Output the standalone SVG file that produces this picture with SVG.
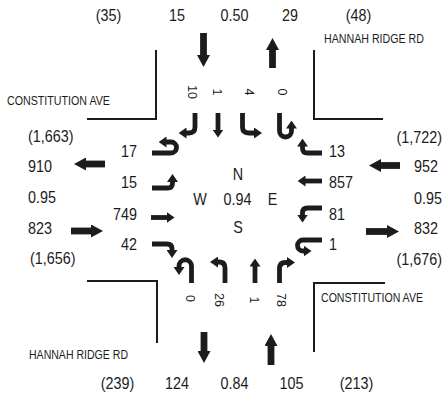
<svg xmlns="http://www.w3.org/2000/svg" width="444" height="398" viewBox="0 0 444 398">
<defs>
<style>
text{font-family:"Liberation Sans",Arial,sans-serif;fill:#1c1c1c}
.n{font-size:16.5px}
.c{text-anchor:middle}
.e{text-anchor:end}
.st{font-size:12.5px}
.r{font-size:12.5px;text-anchor:middle}
.lane{fill:none;stroke:#1c1c1c;stroke-width:4.8;marker-end:url(#ah)}
.big{fill:none;stroke:#1c1c1c;stroke-width:6.8;marker-end:url(#bh)}
.curb{fill:none;stroke:#1c1c1c;stroke-width:2}
</style>
<marker id="ah" viewBox="0 0 8 11" refX="0.5" refY="5.5" markerWidth="8" markerHeight="11" markerUnits="userSpaceOnUse" orient="auto"><path d="M0,0 L8,5.5 L0,11z" fill="#1c1c1c"/></marker>
<marker id="bh" viewBox="0 0 12 13" refX="0.5" refY="6.5" markerWidth="12" markerHeight="13" markerUnits="userSpaceOnUse" orient="auto"><path d="M0,0 L12,6.5 L0,13z" fill="#1c1c1c"/></marker>
</defs>
<rect width="444" height="398" fill="#fff"/>

<g id="curbs">
<path class="curb" d="M87,119 H156 V50"/>
<path class="curb" d="M314,50 V119 H383"/>
<path class="curb" d="M87,281 H157 V343"/>
<path class="curb" d="M314,352 V283 H385"/>
</g>

<g id="street-names">
<text class="st" x="324" y="43" textLength="100" lengthAdjust="spacingAndGlyphs">HANNAH RIDGE RD</text>
<text class="st" x="7" y="105" textLength="103" lengthAdjust="spacingAndGlyphs">CONSTITUTION AVE</text>
<text class="st" x="29" y="359" textLength="99" lengthAdjust="spacingAndGlyphs">HANNAH RIDGE RD</text>
<text class="st" x="321" y="302" textLength="102" lengthAdjust="spacingAndGlyphs">CONSTITUTION AVE</text>
</g>

<g id="north-leg">
<text class="n c" transform="translate(108.5,20.5) scale(0.87,1)">(35)</text>
<text class="n c" transform="translate(177,20.5) scale(0.87,1)">15</text>
<text class="n c" transform="translate(234.5,20.5) scale(0.87,1)">0.50</text>
<text class="n c" transform="translate(290,20.5) scale(0.87,1)">29</text>
<text class="n c" transform="translate(358.5,20.5) scale(0.87,1)">(48)</text>
</g>

<g id="south-leg">
<text class="n c" transform="translate(117.5,389) scale(0.87,1)">(239)</text>
<text class="n c" transform="translate(177,389) scale(0.87,1)">124</text>
<text class="n c" transform="translate(234.5,389) scale(0.87,1)">0.84</text>
<text class="n c" transform="translate(291.5,389) scale(0.87,1)">105</text>
<text class="n c" transform="translate(356.5,389) scale(0.87,1)">(213)</text>
</g>

<g id="west-leg">
<text class="n" transform="translate(28,142) scale(0.87,1)">(1,663)</text>
<text class="n" transform="translate(28,172) scale(0.87,1)">910</text>
<text class="n" transform="translate(28,203) scale(0.87,1)">0.95</text>
<text class="n" transform="translate(28,234) scale(0.87,1)">823</text>
<text class="n" transform="translate(30,264) scale(0.87,1)">(1,656)</text>
</g>

<g id="east-leg">
<text class="n e" transform="translate(442,143) scale(0.87,1)">(1,722)</text>
<text class="n e" transform="translate(438,172) scale(0.87,1)">952</text>
<text class="n e" transform="translate(442,204) scale(0.87,1)">0.95</text>
<text class="n e" transform="translate(438,234) scale(0.87,1)">832</text>
<text class="n e" transform="translate(442,265) scale(0.87,1)">(1,676)</text>
</g>

<g id="center">
<text class="n c" transform="translate(238,180) scale(0.87,1)">N</text>
<text class="n c" transform="translate(200,205) scale(0.87,1)">W</text>
<text class="n c" transform="translate(237.5,205) scale(0.87,1)">0.94</text>
<text class="n c" transform="translate(272.5,205) scale(0.87,1)">E</text>
<text class="n c" transform="translate(238,233) scale(0.87,1)">S</text>
</g>

<g id="sb-volumes">
<text class="r" transform="translate(192,92) rotate(90)" dy="0.36em">10</text>
<text class="r" transform="translate(217.5,92) rotate(90)" dy="0.36em">1</text>
<text class="r" transform="translate(249,92) rotate(90)" dy="0.36em">4</text>
<text class="r" transform="translate(282,92) rotate(90)" dy="0.36em">0</text>
</g>

<g id="nb-volumes">
<text class="r" transform="translate(190,298.5) rotate(90)" dy="0.36em">0</text>
<text class="r" transform="translate(219,300) rotate(90)" dy="0.36em">26</text>
<text class="r" transform="translate(254,300) rotate(90)" dy="0.36em">1</text>
<text class="r" transform="translate(281,300) rotate(90)" dy="0.36em">78</text>
</g>

<g id="eb-volumes">
<text class="n e" transform="translate(137,157) scale(0.87,1)">17</text>
<text class="n e" transform="translate(137,188) scale(0.87,1)">15</text>
<text class="n e" transform="translate(137,220) scale(0.87,1)">749</text>
<text class="n e" transform="translate(137,250) scale(0.87,1)">42</text>
</g>

<g id="wb-volumes">
<text class="n" transform="translate(329,157) scale(0.87,1)">13</text>
<text class="n" transform="translate(329,188) scale(0.87,1)">857</text>
<text class="n" transform="translate(329,220) scale(0.87,1)">81</text>
<text class="n" transform="translate(329,250) scale(0.87,1)">1</text>
</g>

<g id="connectors">
<path class="big" d="M203.5,33 V55.5"/>
<path class="big" d="M272.5,68 V49.5"/>
<path class="big" d="M105,164 H85.5"/>
<path class="big" d="M71,231 H91.5"/>
<path class="big" d="M400,165.5 H380.5"/>
<path class="big" d="M366,231.5 H387.5"/>
<path class="big" d="M204,332 V351.5"/>
<path class="big" d="M271,365 V345.5"/>

<path class="lane" d="M195,113 V127 Q195,133 189,133 H186"/>
<path class="lane" d="M218,113 V130"/>
<path class="lane" d="M242.5,113 V127 Q242.5,133 248.5,133 H254.5"/>
<path class="lane" d="M279.5,113 V131 A6,6 0 0 0 291.5,131 V128"/>

<path class="lane" d="M152,153 H171 A5.5,5.5 0 0 0 171,142 H166"/>
<path class="lane" d="M152,188 H167.5 Q172.5,188 172.5,183 V181.5"/>
<path class="lane" d="M151,217.5 H167"/>
<path class="lane" d="M152,244 H167 Q172,244 172,249 V250.5"/>

<path class="lane" d="M191.5,283 V266 A6.25,6.25 0 0 0 179,266 V267.5"/>
<path class="lane" d="M225,283 V268 Q225,262 219,262 H217.5"/>
<path class="lane" d="M255,283 V266"/>
<path class="lane" d="M279.5,283 V268.5 Q279.5,262.5 285.5,262.5 H287.5"/>

<path class="lane" d="M322,153 H307.5 Q302.5,153 302.5,148 V146"/>
<path class="lane" d="M322,181 H305"/>
<path class="lane" d="M322,208 H307.5 Q302.5,208 302.5,213 V215"/>
<path class="lane" d="M322,240 H303 A5.5,5.5 0 0 0 303,251 H304"/>
</g>
</svg>
